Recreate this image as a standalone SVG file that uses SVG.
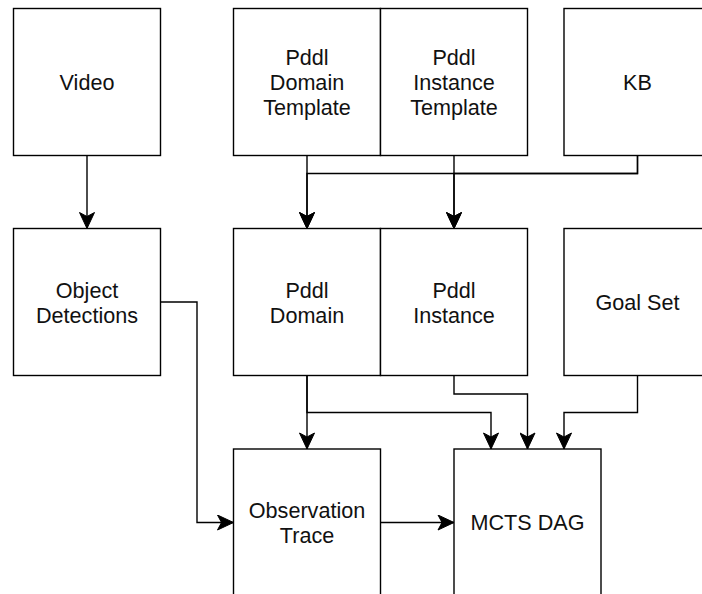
<svg xmlns="http://www.w3.org/2000/svg" width="702" height="594" viewBox="0 0 702 594">
  <style>
    .box { fill: #ffffff; stroke: #000000; stroke-width: 1.4; }
    .lbl { font-family: "Liberation Sans", Arial, Helvetica, sans-serif; font-size: 21.6px; fill: #111111; text-anchor: middle; }
    .edge { fill: none; stroke: #000000; stroke-width: 1.4; marker-end: url(#arrow); }
  </style>
  <defs>
    <marker id="arrow" markerUnits="userSpaceOnUse" viewBox="-17 -8 18 16" refX="0" refY="0" markerWidth="18" markerHeight="16" orient="auto">
      <path d="M0,0 L-16,-7.5 L-12,0 L-16,7.5 Z" fill="#000000" stroke="#000000" stroke-width="1" stroke-linejoin="miter"/>
    </marker>
  </defs>
  <rect width="702" height="594" fill="#ffffff"/>

  <!-- connectors -->
  <g id="connectors">
    <path class="edge" d="M87 155.5 V228.5"/>
    <path class="edge" d="M307 155.5 V228.5"/>
    <path class="edge" d="M454 155.5 V228.5"/>
    <path class="edge" d="M637.5 155.5 V173.5 H307 V228.5"/>
    <path class="edge" d="M637.5 155.5 V173.5 H454 V228.5"/>
    <path class="edge" d="M160.5 302 H197 V522.5 H233.5"/>
    <path class="edge" d="M307 375.5 V449"/>
    <path class="edge" d="M307 375.5 V412.5 H491 V449"/>
    <path class="edge" d="M454 375.5 V394 H527.5 V449"/>
    <path class="edge" d="M637.5 375.5 V412.5 H564 V449"/>
    <path class="edge" d="M380.5 522.5 H454"/>
  </g>

  <!-- top row -->
  <g id="video">
    <rect class="box" x="13.5" y="8.5" width="147" height="147"/>
    <text class="lbl" x="87" y="89.5">Video</text>
  </g>
  <g id="pddl-domain-template">
    <rect class="box" x="233.5" y="8.5" width="147" height="147"/>
    <text class="lbl" x="307" y="64.5">Pddl</text>
    <text class="lbl" x="307" y="89.5">Domain</text>
    <text class="lbl" x="307" y="114.5">Template</text>
  </g>
  <g id="pddl-instance-template">
    <rect class="box" x="380.5" y="8.5" width="147" height="147"/>
    <text class="lbl" x="454" y="64.5">Pddl</text>
    <text class="lbl" x="454" y="89.5">Instance</text>
    <text class="lbl" x="454" y="114.5">Template</text>
  </g>
  <g id="kb">
    <rect class="box" x="564" y="8.5" width="147" height="147"/>
    <text class="lbl" x="637.5" y="89.5">KB</text>
  </g>

  <!-- middle row -->
  <g id="object-detections">
    <rect class="box" x="13.5" y="228.5" width="147" height="147"/>
    <text class="lbl" x="87" y="297.5">Object</text>
    <text class="lbl" x="87" y="322.5">Detections</text>
  </g>
  <g id="pddl-domain">
    <rect class="box" x="233.5" y="228.5" width="147" height="147"/>
    <text class="lbl" x="307" y="297.5">Pddl</text>
    <text class="lbl" x="307" y="322.5">Domain</text>
  </g>
  <g id="pddl-instance">
    <rect class="box" x="380.5" y="228.5" width="147" height="147"/>
    <text class="lbl" x="454" y="297.5">Pddl</text>
    <text class="lbl" x="454" y="322.5">Instance</text>
  </g>
  <g id="goal-set">
    <rect class="box" x="564" y="228.5" width="147" height="147"/>
    <text class="lbl" x="637.5" y="309.5">Goal Set</text>
  </g>

  <!-- bottom row -->
  <g id="observation-trace">
    <rect class="box" x="233.5" y="449" width="147" height="147"/>
    <text class="lbl" x="307" y="518">Observation</text>
    <text class="lbl" x="307" y="543">Trace</text>
  </g>
  <g id="mcts-dag">
    <rect class="box" x="454" y="449" width="147" height="147"/>
    <text class="lbl" x="527.5" y="530">MCTS DAG</text>
  </g>
</svg>
